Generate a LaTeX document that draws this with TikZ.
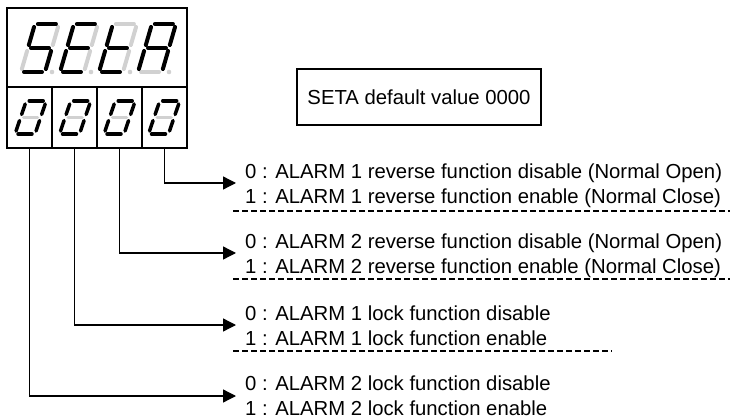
\documentclass[tikz,border=0pt]{standalone}
\usepackage{fontspec}
\setmainfont{Liberation Sans}
\usetikzlibrary{positioning,arrows.meta}

% one slanted seven-segment digit:
% x, y (bottom left), width, height, slant, lit segments, dark segments, line width
\newcommand{\segdigit}[8]{%
  \begin{scope}[shift={(#1,#2)}, xslant=#5]
    \coordinate (s-a-1) at (3,-#4);        \coordinate (s-a-2) at (#3-3,-#4);
    \coordinate (s-b-1) at (#3,-#4+3);     \coordinate (s-b-2) at (#3,-#4/2-3);
    \coordinate (s-c-1) at (#3,-#4/2+3);   \coordinate (s-c-2) at (#3,-3);
    \coordinate (s-d-1) at (3,0);          \coordinate (s-d-2) at (#3-3,0);
    \coordinate (s-e-1) at (0,-#4/2+3);    \coordinate (s-e-2) at (0,-3);
    \coordinate (s-f-1) at (0,-#4+3);      \coordinate (s-f-2) at (0,-#4/2-3);
    \coordinate (s-g-1) at (3,-#4/2);      \coordinate (s-g-2) at (#3-3,-#4/2);
    \foreach \s in {#7} {\draw[segoff, line width=#8] (s-\s-1) -- (s-\s-2);}
    \foreach \s in {#6} {\draw[segon, line width=#8] (s-\s-1) -- (s-\s-2);}
  \end{scope}}

\begin{document}
\begin{tikzpicture}[
  x=1pt, y=-1pt,
  font=\fontsize{20.3}{25}\selectfont,
  frame/.style={draw, line width=1.3pt, inner sep=0pt, outer sep=0pt},
  cell/.style={frame, minimum width=45pt, minimum height=61pt},
  segon/.style={line cap=round, black},
  segoff/.style={line cap=round, black!18},
  lead/.style={-{Triangle[length=13pt,width=13pt]}, line width=1.3pt},
  desc/.style={anchor=west, align=left, inner sep=0pt},
  sep/.style={line width=1.2pt, dash pattern=on 6pt off 3pt},
]
  \useasboundingbox (0,0) rectangle (730,419);

  % display: name row and value row
  \node[frame, minimum width=180pt, minimum height=79pt] (disp) at (97,47.5) {};
  \node[cell] (c1) at (29.5,117.5) {};
  \node[cell, right=0pt of c1] (c2) {};
  \node[cell, right=0pt of c2] (c3) {};
  \node[cell, right=0pt of c3] (c4) {};

  % S E t A
  \segdigit{21}{72}{24}{48}{0.29}{a,f,g,c,d}{b,e}{4pt}
  \segdigit{60}{72}{24}{48}{0.29}{a,f,g,e,d}{b,c}{4pt}
  \segdigit{99}{72}{24}{48}{0.29}{f,g,e,d}{a,b,c}{4pt}
  \segdigit{138}{72}{24}{48}{0.29}{a,b,c,e,f,g}{d}{4pt}
  \foreach \px in {52,91,130,169}
    \fill[black!18] (\px,72) circle (2.3pt);

  % 0 0 0 0
  \foreach \px in {15,59.5,104,148.5} {
    \segdigit{\px}{134}{20}{33}{0.34}{a,b,c,d,e,f}{g}{3.5pt}
  }

  \node[frame, minimum width=244pt, minimum height=56pt] (dflt) at (419,97)
    {SETA default value 0000};

  % meaning of each digit
  \node[desc] (d1) at (245,186)
    {\strut 0 : ALARM 1 reverse function disable (Normal Open)\\
     \strut 1 : ALARM 1 reverse function enable (Normal Close)};
  \node[desc] (d2) at (245,256)
    {\strut 0 : ALARM 2 reverse function disable (Normal Open)\\
     \strut 1 : ALARM 2 reverse function enable (Normal Close)};
  \node[desc] (d3) at (245,328)
    {\strut 0 : ALARM 1 lock function disable\\
     \strut 1 : ALARM 1 lock function enable};
  \node[desc] (d4) at (245,398)
    {\strut 0 : ALARM 2 lock function disable\\
     \strut 1 : ALARM 2 lock function enable};

  \draw[lead] (c4.south) |- ([xshift=-9pt, yshift=3pt]d1.west);
  \draw[lead] (c3.south) |- ([xshift=-9pt, yshift=3pt]d2.west);
  \draw[lead] (c2.south) |- ([xshift=-9pt, yshift=3pt]d3.west);
  \draw[lead] (c1.south) |- ([xshift=-9pt, yshift=2pt]d4.west);

  \draw[sep] (233,211) -- (730,211);
  \draw[sep] (233,279) -- (730,279);
  \draw[sep] (233,351) -- (612,351);
\end{tikzpicture}
\end{document}
